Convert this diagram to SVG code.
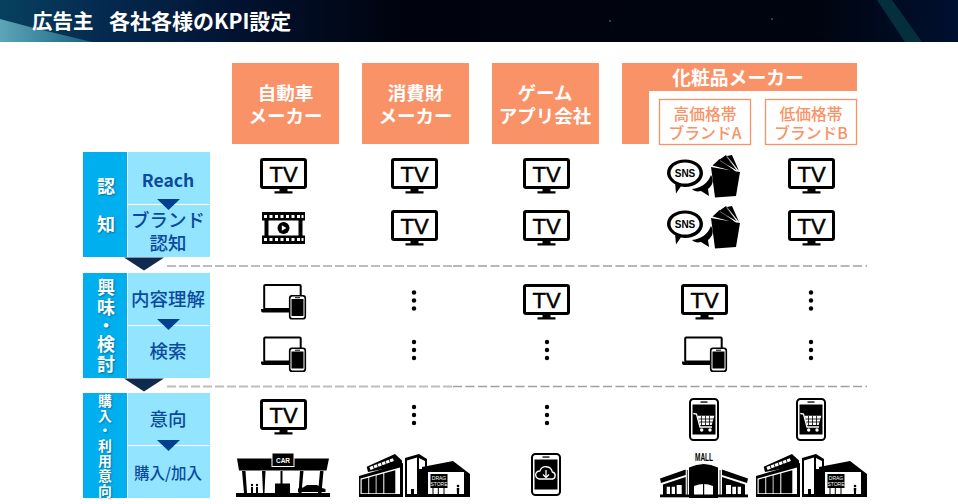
<svg xmlns="http://www.w3.org/2000/svg" width="958" height="504" viewBox="0 0 958 504">
<style>
text{font-family:"Noto Sans CJK JP","Noto Sans",sans-serif;font-weight:500;text-anchor:middle}
.o{fill:#F99266}.w{fill:#fff;font-weight:700}.b{fill:#0B4A9E}
.sh{fill:#fff;font-weight:700;text-shadow:1px 1px 2px rgba(0,0,0,.35)}
.out{fill:#fff;stroke:#F99266;stroke-width:1.3}
.lat{font-family:"Liberation Sans",Arial,sans-serif;font-weight:700}
.tvt{font-family:"Liberation Sans",Arial,sans-serif;font-weight:400;stroke:#000;stroke-width:.5;font-size:22px}
.dk{fill:#00AFEE}.lt{fill:#93E5FF}.ts{fill:#00408F}.tb{fill:#0F2A4C}
.dl{stroke:#BDBDBD;stroke-width:2;stroke-dasharray:9 3;fill:none}
.dr{stroke:#A0A0A0;stroke-width:1.4;stroke-dasharray:9 3.5;fill:none}
</style>
<defs>
<linearGradient id="hg" x1="0" x2="1" y1="0" y2="0">
<stop offset="0" stop-color="#07405F"/><stop offset=".1" stop-color="#052B50"/><stop offset=".25" stop-color="#021230"/><stop offset=".42" stop-color="#00030D"/><stop offset=".85" stop-color="#00040E"/><stop offset="1" stop-color="#001030"/>
</linearGradient>
<linearGradient id="sw" x1="0" x2="1" y1="0" y2="0"><stop offset="0" stop-color="#5DA6B8"/><stop offset="1" stop-color="#17607F"/></linearGradient>
<g id="tv"><rect x="1.5" y="1.5" width="44" height="28" rx="1.5" fill="#fff" stroke="#000" stroke-width="3"/><path d="M19.5 31h8v2.3h5v2.2h-18v-2.2h5z"/></g>
<g id="film"><path d="M0 0h43v8.500h-2.500v15H43V32H0v-8.500h2.500v-15H0z"/><rect x="6.500" y="8.500" width="30" height="15" fill="#fff"/><path d="M2 3h3v3H2zM7.500 3h3v3h-3zM13 3h3v3h-3zM18.500 3h3v3h-3zM24 3h3v3h-3zM29.500 3h3v3h-3zM35 3h3v3h-3zM39.500 3h2v3h-2zM2 26h3v3H2zM7.500 26h3v3h-3zM13 26h3v3h-3zM18.500 26h3v3h-3zM24 26h3v3h-3zM29.500 26h3v3h-3zM35 26h3v3h-3zM39.500 26h2v3h-2z" fill="#fff"/><circle cx="21.500" cy="16" r="6"/><path d="M19.800 13.300l4.600 2.700-4.600 2.700z" fill="#fff"/></g>
<g id="dev"><rect x="3.200" y="1" width="36.500" height="24" rx="1" fill="#fff" stroke="#000" stroke-width="2"/><path d="M0 25h31v3.600H2.500Q0 28.600 0 26z"/><rect x="28.500" y="11.500" width="16" height="23.500" rx="2.500" fill="#000" stroke="#000" stroke-width="1.200"/><rect x="29.500" y="12.500" width="14" height="21.500" rx="2" fill="#fff"/><rect x="30.500" y="15" width="12" height="17" fill="#000"/><rect x="34" y="13.200" width="5" height="1" fill="#000"/></g>
<g id="ph"><rect x="1" y="1" width="28" height="41" rx="3.500" fill="#fff" stroke="#000" stroke-width="2"/><rect x="3.500" y="6.500" width="23" height="30" fill="#000"/><rect x="11.500" y="3.400" width="7" height="1.300"/></g>
<g id="cart"><path d="M4.300 15.500l3.200.5L11 29h12" fill="none" stroke="#fff" stroke-width="1.300"/><path d="M8.700 17.700h16.600L22.700 27H11z" fill="#fff"/><path d="M12.500 18v9M16.500 18v9M20.500 18v9M10 21h15M10.500 24h13.500" stroke="#000" stroke-width=".8" fill="none"/><circle cx="12.700" cy="32" r="1.700" fill="#fff"/><circle cx="21" cy="32" r="1.700" fill="#fff"/></g>
<g id="bub"><path d="M18 4.500c10 0 18 5.700 18 13.500 0 8-8 14-18 14-1.500 0-3-.1-4.200-.4L9 38.500l-.8-9.300C3.500 26.500 0 22.500 0 18 0 10.200 8 4.500 18 4.500z" fill="#000"/><ellipse cx="18" cy="18" rx="14.500" ry="10.500" fill="#fff"/><path d="M25 34c9-1 16-6 19-14 3 5 2 10-3 14l1 7-8-5c-4 1-7 0-9-2z"/><path d="M44 12l29 5-4 24-21 1.500zM45.500 10.500l7-6.500 17 13zM52 5l7-5 11 15.500zM60 1l5-1 7 16z"/><path d="M53 5.500l17 11M59.500 1.500l11 14.500" stroke="#fff" stroke-width=".4" fill="none"/></g>
<g id="store"><path d="M7.700 13.700L36 1l7 6.500v5L9 19z"/><path d="M11 15.500L34.500 6.500" stroke="#fff" stroke-width="3" stroke-dasharray="3.500 .8" fill="none"/><path d="M0 23l44-13v34H0z"/><path d="M1.500 25.500L41 14.500V41H1.500z" fill="#fff"/><path d="M2.700 26.500L9.300 24.700V40.300H2.700zM10.200 24.400l6.500-1.800V40.300h-6.500zM17.500 22.400l6.800-1.900V40.300h-6.800zM25.300 20.200l11-3V40.300h-11z"/><path d="M46 5l14-4 8 5v38H46z"/><path d="M48 7.500L58 4.500V41H48zM60 5l6 3v8h-6z" fill="#fff"/><path d="M52 36h3v5h-3z"/><path d="M63 14l31-6 17 13v23H63z"/><path d="M69 19h36v22H69z" fill="#fff"/><rect x="71.500" y="21" width="17" height="14"/><path d="M74 35h11v6H74z" fill="#fff"/><path d="M73.500 35h1v6h-1zM78.800 35h1v6h-1zM84.500 35h1v6h-1z"/><circle cx="99" cy="33" r="1.300"/><path d="M97.700 35h2.600l-.3 6h-2z"/></g>
</defs>

<g id="header">
<rect width="958" height="42" fill="url(#hg)"/>
<path d="M0 19L30 27 92 42H0z" fill="url(#sw)"/>
<path d="M877 0h15l30 42h-17z" fill="#04303E"/>
<circle cx="610" cy="21" r="1" fill="#14606E"/><circle cx="772" cy="19" r="1" fill="#14606E"/>
<text x="32" y="28.500" font-size="20.500" class="w" style="text-anchor:start">広告主</text>
<text x="109" y="28.500" font-size="21" class="w" style="text-anchor:start">各社各様のKPI設定</text>
</g>

<g id="col-car"><rect x="232" y="63" width="107" height="81" class="o"/><text x="285.500" y="100" font-size="18.500" class="w">自動車</text><text x="285.500" y="123" font-size="18.500" class="w">メーカー</text></g>
<g id="col-goods"><rect x="362" y="63" width="107" height="81" class="o"/><text x="415.500" y="100" font-size="18.500" class="w">消費財</text><text x="415.500" y="123" font-size="18.500" class="w">メーカー</text></g>
<g id="col-game"><rect x="492" y="63" width="107" height="81" class="o"/><text x="545" y="100" font-size="18.500" class="w">ゲーム</text><text x="545" y="123" font-size="18.500" class="w">アプリ会社</text></g>
<g id="col-cosme"><path d="M622 63h235v28H649v53h-27z" class="o"/><text x="738" y="84.500" font-size="18.800" class="w">化粧品メーカー</text></g>
<g id="col-brand-a"><rect x="659.500" y="99.500" width="91" height="45" class="out"/><text x="705" y="120" font-size="15.800" class="o">高価格帯</text><text x="705" y="139" font-size="15.800" class="o">ブランドA</text></g>
<g id="col-brand-b"><rect x="765.500" y="99.500" width="91" height="45" class="out"/><text x="811" y="120" font-size="15.800" class="o">低価格帯</text><text x="811" y="139" font-size="15.800" class="o">ブランドB</text></g>

<g id="connectors">
<path class="dl" d="M167 266H453"/><path class="dr" d="M453 266H867"/>
<path class="dl" d="M167 386.500H453"/><path class="dr" d="M453 386.500H867"/>
</g>

<g id="stage-awareness">
<rect x="83" y="152" width="44" height="105" class="dk"/>
<rect x="128" y="152" width="82" height="52" class="lt"/><rect x="128" y="205" width="82" height="52" class="lt"/>
<text class="sh" font-size="18" x="106" y="193">認</text><text class="sh" font-size="18" x="106" y="231">知</text>
<text class="b" font-size="17.500" x="168" y="187" style="font-weight:700">Reach</text>
<path class="ts" d="M157 199h23l-11.500 11z"/>
<text class="b" font-size="18.500" x="168" y="227">ブランド</text><text class="b" font-size="18.500" x="168" y="250">認知</text>
<path class="tb" d="M124 257.500h40l-20 13z"/>
</g>
<g id="stage-interest">
<rect x="83" y="273" width="44" height="105" class="dk"/>
<rect x="128" y="273" width="82" height="52" class="lt"/><rect x="128" y="326" width="82" height="52" class="lt"/>
<text class="sh" font-size="18"><tspan x="106" y="294">興</tspan><tspan x="106" y="314">味</tspan><tspan x="106" y="332">・</tspan><tspan x="106" y="351">検</tspan><tspan x="106" y="371">討</tspan></text>
<text class="b" font-size="18.500" x="168" y="305.500">内容理解</text>
<path class="ts" d="M157 319h23l-11.500 11z"/>
<text class="b" font-size="18.500" x="168" y="358">検索</text>
<path class="tb" d="M124 378.500h40l-20 13z"/>
</g>
<g id="stage-purchase">
<rect x="83" y="393" width="44" height="105" class="dk"/>
<rect x="128" y="393" width="82" height="52" class="lt"/><rect x="128" y="446" width="82" height="52" class="lt"/>
<text class="sh" font-size="13.800"><tspan x="105" y="406">購</tspan><tspan x="105" y="420.500">入</tspan><tspan x="105" y="435">・</tspan><tspan x="105" y="450.500">利</tspan><tspan x="105" y="466">用</tspan><tspan x="105" y="481">意</tspan><tspan x="105" y="495.500">向</tspan></text>
<text class="b" font-size="18.500" x="168" y="426">意向</text>
<path class="ts" d="M157 440h23l-11.500 11z"/>
<text class="b" font-size="15.500" x="168" y="479">購入/加入</text>
</g>

<g id="tv-r1-c1" transform="translate(260 158)"><use href="#tv"/><text class="tvt" x="23.500" y="24">TV</text></g>
<g id="tv-r1-c2" transform="translate(391 158)"><use href="#tv"/><text class="tvt" x="23.500" y="24">TV</text></g>
<g id="tv-r1-c3" transform="translate(523 158)"><use href="#tv"/><text class="tvt" x="23.500" y="24">TV</text></g>
<g id="tv-r1-c5" transform="translate(788 158)"><use href="#tv"/><text class="tvt" x="23.500" y="24">TV</text></g>
<g id="film-r2-c1" transform="translate(262 212)"><use href="#film"/></g>
<g id="tv-r2-c2" transform="translate(391 210)"><use href="#tv"/><text class="tvt" x="23.500" y="24">TV</text></g>
<g id="tv-r2-c3" transform="translate(523 210)"><use href="#tv"/><text class="tvt" x="23.500" y="24">TV</text></g>
<g id="tv-r2-c5" transform="translate(788 210)"><use href="#tv"/><text class="tvt" x="23.500" y="24">TV</text></g>
<g id="sns-r1-c4" transform="translate(667 155)"><use href="#bub"/><text class="lat" x="18" y="21.500" font-size="10">SNS</text></g>
<g id="sns-r2-c4" transform="translate(667 206)"><use href="#bub"/><text class="lat" x="18" y="21.500" font-size="10">SNS</text></g>

<g id="dev-r3-c1" transform="translate(261 284)"><use href="#dev"/></g>
<g id="dev-r4-c1" transform="translate(261 336.500)"><use href="#dev"/></g>
<g id="dev-r4-c4" transform="translate(682 336.500)"><use href="#dev"/></g>
<g id="tv-r3-c3" transform="translate(523 284)"><use href="#tv"/><text class="tvt" x="23.500" y="24">TV</text></g>
<g id="tv-r3-c4" transform="translate(681 284)"><use href="#tv"/><text class="tvt" x="23.500" y="24">TV</text></g>
<g id="tv-r5-c1" transform="translate(260 399)"><use href="#tv"/><text class="tvt" x="23.500" y="24">TV</text></g>

<g id="dots">
<circle cx="414" cy="292.500" r="2.200"/><circle cx="414" cy="300.500" r="2.200"/><circle cx="414" cy="308.500" r="2.200"/>
<circle cx="811" cy="292.500" r="2.200"/><circle cx="811" cy="300.500" r="2.200"/><circle cx="811" cy="308.500" r="2.200"/>
<circle cx="414" cy="342" r="2.200"/><circle cx="414" cy="350" r="2.200"/><circle cx="414" cy="358" r="2.200"/>
<circle cx="547" cy="342" r="2.200"/><circle cx="547" cy="350" r="2.200"/><circle cx="547" cy="358" r="2.200"/>
<circle cx="811" cy="342" r="2.200"/><circle cx="811" cy="350" r="2.200"/><circle cx="811" cy="358" r="2.200"/>
<circle cx="414" cy="407" r="2.200"/><circle cx="414" cy="415" r="2.200"/><circle cx="414" cy="423" r="2.200"/>
<circle cx="547" cy="407" r="2.200"/><circle cx="547" cy="415" r="2.200"/><circle cx="547" cy="423" r="2.200"/>
</g>

<g id="cart-r5-c4" transform="translate(689 398)"><use href="#ph"/><use href="#cart"/></g>
<g id="cart-r5-c5" transform="translate(796 398)"><use href="#ph"/><use href="#cart"/></g>
<g id="cloud-r6-c3" transform="translate(531 453)"><use href="#ph"/><path d="M8.500 26a4 4 0 0 1 .3-8 6.500 6.500 0 0 1 12.500 1 3.600 3.600 0 0 1 .2 7z" fill="#000" stroke="#fff" stroke-width="1.300"/><path d="M15 17v7M12 21.500l3 3 3-3" fill="none" stroke="#fff" stroke-width="1.300"/></g>

<g id="car-shop" transform="translate(236 453)">
<path d="M1 5.500h92l-2.500 12H3z"/><rect x="36" y="0" width="22" height="13.500" stroke="#fff" stroke-width="1"/>
<text class="lat w" x="47" y="10" font-size="6.500">CAR</text>
<path d="M6 18h3.500l1.500 22H8zM26 18h3.500l-1 22H27zM44.500 18h2v14h-2zM64 18h3.500l-2 22h-3zM84 18h3.500l-2 22H82z"/>
<path d="M39 30.500h15V40H39z"/><circle cx="16" cy="32" r="1.200"/><path d="M15 34h2v6h-2z"/><circle cx="21" cy="32" r="1.200"/><path d="M20 34h2v6h-2z"/>
<path d="M62 39v-3.500l5-1 4-2.500h10l5 3 3.500 1V39z"/>
<rect x="0" y="40" width="94" height="4"/>
</g>
<g id="mall" transform="translate(660 453)">
<text class="lat" x="44" y="7.500" font-size="10.500" textLength="18" lengthAdjust="spacingAndGlyphs">MALL</text>
<path d="M29 44V13.500Q44 6.500 58 13.500V44z" transform="translate(0 1)"/><path d="M34 42V33Q44 29 53 33V42z" fill="#fff"/><path d="M43 31h1.200V42H43z"/>
<path d="M0 25.500L25.700 16.500v5.500L1 30z"/><path d="M88 25.500L62 16.500v5.500L87 30z"/>
<path d="M3 31.500L25.700 24V44H3zM85 31.500L62 24V44H85z"/>
<path d="M6.700 33.700H10V41H6.700zM11.700 33.700H15V41h-3.300zM16.700 32h5v9h-5zM66 32h5v9h-5zM72.300 33.700H76V41h-3.700zM77.700 33.700H81V41h-3.300z" fill="#fff"/>
<path d="M26.800 17h1.200v26h-1.200zM59.500 17h1.200v26h-1.200z" fill="#555"/>
<rect x="0" y="41.500" width="88" height="2.800"/>
</g>
<g id="store-r6-c2" transform="translate(359 453)"><use href="#store"/><text class="lat w" font-size="5" style="font-weight:400"><tspan x="80" y="27">DRAG</tspan><tspan x="80" y="33">STORE</tspan></text></g>
<g id="store-r6-c5" transform="translate(756 453)"><use href="#store"/><text class="lat w" font-size="5" style="font-weight:400"><tspan x="80" y="27">DRAG</tspan><tspan x="80" y="33">STORE</tspan></text></g>
</svg>
